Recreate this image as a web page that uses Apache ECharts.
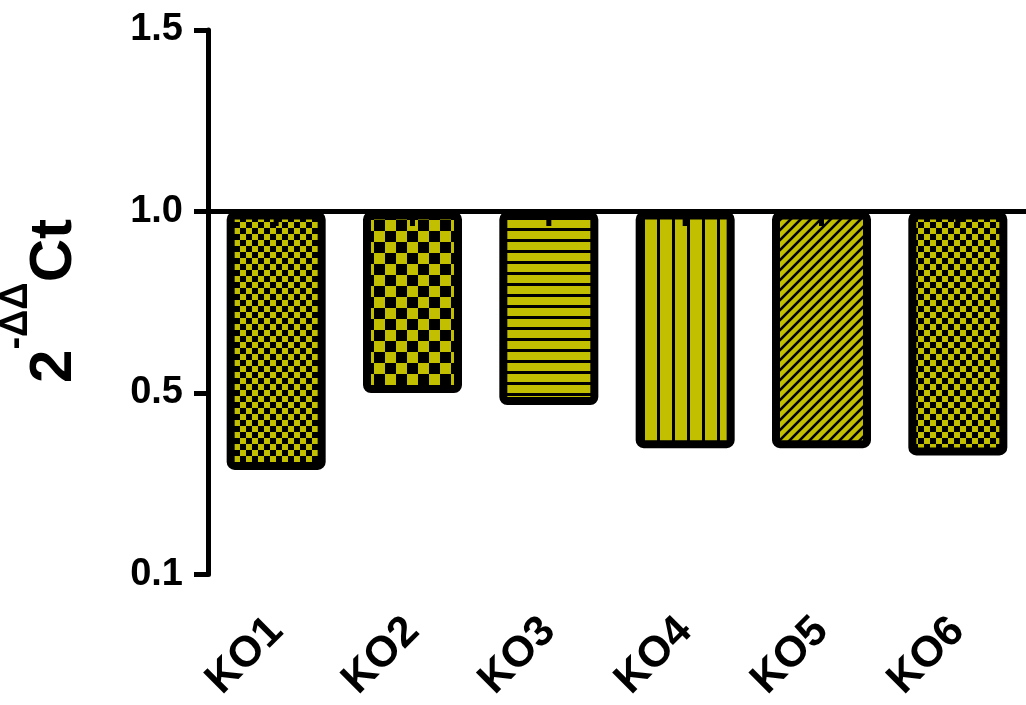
<!DOCTYPE html>
<html><head><meta charset="utf-8">
<script src="https://cdn.jsdelivr.net/npm/echarts@6/dist/echarts.min.js"></script>
<style>html,body{margin:0;padding:0;background:#fff}#c{width:1026px;height:705px}</style>
</head><body><div id="c"></div>
<script>
const categories = ['KO1', 'KO2', 'KO3', 'KO4', 'KO5', 'KO6'];
const values = [0.288, 0.50, 0.467, 0.348, 0.348, 0.328];
const errors = [0.04, 0.04, 0.04, 0.04, 0.04, 0.04];
const baseline = 1.0;
const tickValues = [0, 0.5, 1.0, 1.5];
const tickLabels = ['0.1', '0.5', '1.0', '1.5'];
const patternKinds = ['checkFine', 'checkCoarse', 'hStripes', 'vStripes', 'diagonal', 'checkFine'];

const YELLOW = '#c1bf00';
const FONT = "'Liberation Sans', Arial, sans-serif";

function makePattern(kind) {
  const c = document.createElement('canvas');
  let ctx;
  if (kind === 'checkFine' || kind === 'checkCoarse') {
    const cell = kind === 'checkFine' ? 6 : 11;
    c.width = c.height = cell * 2;
    ctx = c.getContext('2d');
    ctx.fillStyle = YELLOW; ctx.fillRect(0, 0, c.width, c.height);
    ctx.fillStyle = '#000';
    ctx.fillRect(0, 0, cell, cell);
    ctx.fillRect(cell, cell, cell, cell);
  } else if (kind === 'hStripes') {
    c.width = 11; c.height = 11;
    ctx = c.getContext('2d');
    ctx.fillStyle = YELLOW; ctx.fillRect(0, 0, 11, 11);
    ctx.fillStyle = '#000'; ctx.fillRect(0, 8, 11, 3);
  } else if (kind === 'vStripes') {
    c.width = 15; c.height = 15;
    ctx = c.getContext('2d');
    ctx.fillStyle = YELLOW; ctx.fillRect(0, 0, 15, 15);
    ctx.fillStyle = '#000'; ctx.fillRect(12, 0, 3, 15);
  } else {
    const p = 10;
    c.width = c.height = p;
    ctx = c.getContext('2d');
    ctx.fillStyle = YELLOW; ctx.fillRect(0, 0, p, p);
    ctx.strokeStyle = '#000'; ctx.lineWidth = 2.6;
    ctx.beginPath();
    ctx.moveTo(-2, p + 2); ctx.lineTo(p + 2, -2);
    ctx.moveTo(-2, 2); ctx.lineTo(2, -2);
    ctx.moveTo(p - 2, p + 2); ctx.lineTo(p + 2, p - 2);
    ctx.stroke();
  }
  return { image: c, repeat: 'repeat' };
}

const chart = echarts.init(document.getElementById('c'), null, { renderer: 'canvas' });
chart.setOption({
  animation: false,
  backgroundColor: '#fff',
  grid: { left: 208, top: 30, width: 822, height: 544.5, containLabel: false },
  xAxis: {
    type: 'category',
    data: categories,
    axisLine: { show: false },
    axisTick: { show: false },
    axisLabel: {
      rotate: 45, margin: 50, color: '#000',
      fontFamily: FONT, fontWeight: 'bold', fontSize: 43
    }
  },
  yAxis: {
    type: 'value',
    min: 0, max: 1.5, interval: 0.5,
    splitLine: { show: false },
    axisLine: { show: true, lineStyle: { color: '#000', width: 5 } },
    axisTick: { show: true, length: 14, lineStyle: { color: '#000', width: 5 } },
    axisLabel: {
      color: '#000', fontFamily: FONT, fontWeight: 'bold', fontSize: 38, margin: 25,
      formatter: function (v) {
        const i = tickValues.indexOf(v);
        return i >= 0 ? tickLabels[i] : '';
      }
    }
  },
  graphic: [{
    type: 'text',
    x: 41, y: 301,
    rotation: Math.PI / 2,
    style: {
      text: '{a|2}{b|-ΔΔ}{a|Ct}',
      align: 'center', verticalAlign: 'middle',
      fill: '#000',
      rich: {
        a: { fontFamily: FONT, fontWeight: 'bold', fontSize: 60, lineHeight: 86, verticalAlign: 'bottom' },
        b: { fontFamily: FONT, fontWeight: 'bold', fontSize: 38, lineHeight: 40, verticalAlign: 'top' }
      }
    }
  }],
  series: [
    {
      type: 'bar', stack: 'ko', silent: true,
      barWidth: 99,
      data: values,
      itemStyle: { color: 'transparent' }
    },
    {
      type: 'bar', stack: 'ko', silent: true,
      barWidth: 99,
      data: values.map((v, i) => ({
        value: +(baseline - v).toFixed(4),
        itemStyle: { color: makePattern(patternKinds[i]) }
      })),
      itemStyle: { borderColor: '#000', borderWidth: 8, borderRadius: 4 },
      markLine: {
        silent: true, symbol: 'none',
        label: { show: false },
        lineStyle: { color: '#000', width: 5, type: 'solid' },
        data: [{ yAxis: baseline }]
      }
    },
    {
      type: 'custom', silent: true,
      data: categories.map((c, i) => [i, errors[i]]),
      renderItem: function (params, api) {
        const p0 = api.coord([api.value(0), baseline]);
        const p1 = api.coord([api.value(0), baseline - api.value(1)]);
        return {
          type: 'line',
          shape: { x1: p0[0], y1: p0[1], x2: p1[0], y2: p1[1] },
          style: { stroke: '#000', lineWidth: 5 }
        };
      },
      z: 5
    }
  ]
});
</script>
</body></html>
